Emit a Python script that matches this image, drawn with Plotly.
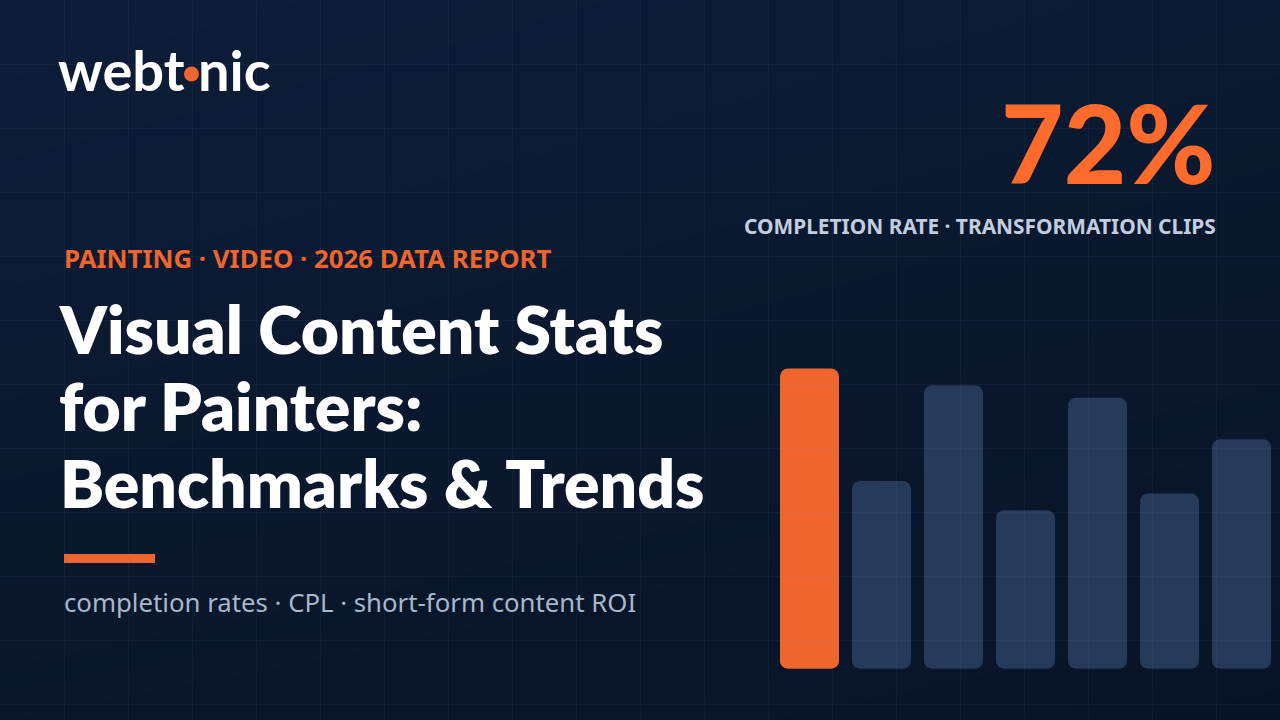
import plotly.graph_objects as go
import numpy as np

# bar values, first one is the highlighted 72%
categories = [0, 1, 2, 3, 4, 5, 6]
values = [72, 45, 68, 38, 65, 42, 55]
bar_colors = ["#EE652D", "#263A5A", "#263A5A", "#263A5A", "#263A5A", "#263A5A", "#263A5A"]

W, H = 1280, 720
GRID_STEP = 64

# pixels per value and where value 0 sits on the canvas
PX_PER_UNIT = 300 / 72
BASE_PX = 668.5
FIRST_BAR_PX = 809.5
BAR_PITCH = 72
BAR_W = 59

fig = go.Figure()

# background gradient, slightly lighter at the top
gx = [0, W]
gy = [0, H]
fig.add_trace(go.Heatmap(
    x=gx, y=gy, z=[[0.0, 0.35], [0.75, 1.0]],
    zsmooth="best", showscale=False, hoverinfo="skip",
    colorscale=[[0, "#0D1D38"], [1, "#081426"]], zmin=0, zmax=1,
))

# bars: plotly only rounds the tip, so a short downward bar gives the bottom corners
fig.add_trace(go.Bar(
    x=categories, y=values, base=0, width=BAR_W / BAR_PITCH,
    marker=dict(color=bar_colors, cornerradius=8, line_width=0),
    xaxis="x2", yaxis="y2", hoverinfo="skip",
))
fig.add_trace(go.Bar(
    x=categories, y=[-6] * len(values), base=6, width=BAR_W / BAR_PITCH,
    marker=dict(color=bar_colors, cornerradius=8, line_width=0),
    xaxis="x2", yaxis="y2", hoverinfo="skip",
))

# logo dot
fig.add_trace(go.Scatter(
    x=[191.5], y=[74], mode="markers",
    marker=dict(color="#EE652D", size=15, line_width=0), hoverinfo="skip",
))

# faint grid over everything, half pixel offset keeps the lines 1px wide
shapes = []
for gxp in np.arange(GRID_STEP, W, GRID_STEP):
    shapes.append(dict(type="line", xref="x", yref="y", x0=gxp + 0.5, x1=gxp + 0.5, y0=0, y1=H,
                       line=dict(color="rgba(150,180,220,0.055)", width=1), layer="above"))
for gyp in np.arange(GRID_STEP, H, GRID_STEP):
    shapes.append(dict(type="line", xref="x", yref="y", x0=0, x1=W, y0=gyp + 0.5, y1=gyp + 0.5,
                       line=dict(color="rgba(150,180,220,0.055)", width=1), layer="above"))
# accent rule under the title
shapes.append(dict(type="rect", xref="x", yref="y", x0=64, x1=155, y0=554, y1=563,
                   fillcolor="#EE652D", line_width=0, layer="above"))


def label(x, y, text, size, color, family="Open Sans", weight=400, anchor="left"):
    fig.add_annotation(x=x, y=y, xref="x", yref="y", text=text, showarrow=False,
                       xanchor=anchor, yanchor="middle", align=anchor,
                       font=dict(family=family, size=size, color=color, weight=weight))


label(56, 69, "webt", 56, "#FFFFFF", "Lato", 700)
label(196, 69, "nic", 56, "#FFFFFF", "Lato", 700)
label(1218, 142, "72%", 108, "#FF6B2C", "Lato", 900, "right")
label(1218, 226, "COMPLETION RATE · TRANSFORMATION CLIPS", 20.9, "#C2CDDF", "Noto Sans", 700, "right")
label(62, 258, "PAINTING · VIDEO · 2026 DATA REPORT", 25.8, "#EE652D", "Noto Sans", 700)
label(57, 328, "Visual Content Stats", 66, "#FFFFFF", "Lato", 800)
label(57, 405, "for Painters:", 66, "#FFFFFF", "Lato", 800)
label(58, 482, "Benchmarks &amp; Trends", 66, "#FFFFFF", "Lato", 800)
label(62, 602, "completion rates · CPL · short-form content ROI", 25.75, "#A9B7CB", "Noto Sans")

fig.update_layout(
    width=W, height=H,
    margin=dict(l=0, r=0, t=0, b=0),
    showlegend=False,
    barmode="overlay",
    paper_bgcolor="#0A172D",
    plot_bgcolor="#0A172D",
    shapes=shapes,
    xaxis=dict(range=[0, W], visible=False, fixedrange=True),
    yaxis=dict(range=[H, 0], visible=False, fixedrange=True),
    xaxis2=dict(range=[-FIRST_BAR_PX / BAR_PITCH, (W - FIRST_BAR_PX) / BAR_PITCH],
                visible=False, overlaying="x", fixedrange=True),
    yaxis2=dict(range=[(BASE_PX - H) / PX_PER_UNIT, BASE_PX / PX_PER_UNIT],
                visible=False, overlaying="y", fixedrange=True),
)

# browser default body margin would shift the whole canvas
fig.write_html("out.html", config=dict(displayModeBar=False),
               post_script="document.body.style.margin='0';document.body.style.background='#0A172D';")
